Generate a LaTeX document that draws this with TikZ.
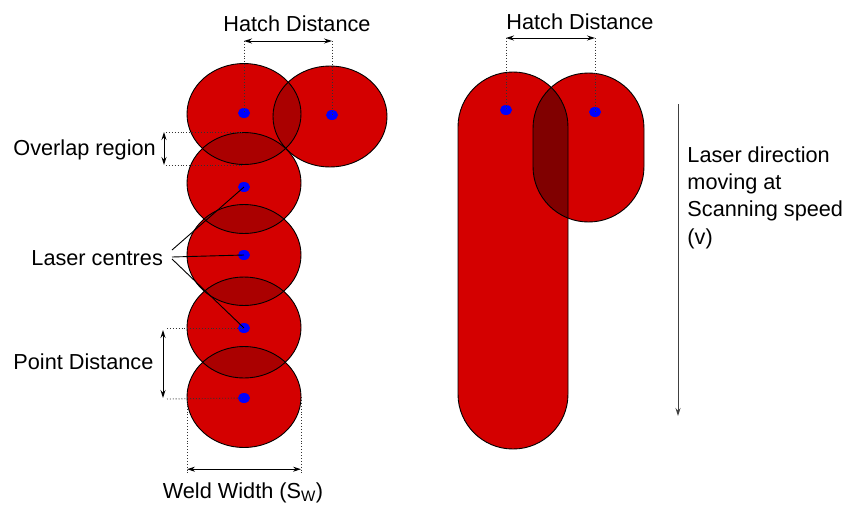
\documentclass[tikz,border=0pt]{standalone}
\usepackage{fontspec}
\setmainfont{Liberation Sans}
\usetikzlibrary{arrows.meta, positioning, calc, shapes.geometric}
\definecolor{weld}{HTML}{D40000}
\definecolor{ovl}{HTML}{AA0000}
\definecolor{ovr}{HTML}{800000}
\definecolor{spot}{HTML}{0000FF}

\begin{document}
\begin{tikzpicture}[x=1pt, y=-1pt, line width=0.9pt,
    >={Stealth[length=8pt, width=5pt]},
    font=\fontsize{21.7}{27.3}\selectfont,
    rim/.style={draw=black, line width=0.9pt},
    dot/.style={ellipse, fill=spot, minimum width=12pt,
                minimum height=10pt, inner sep=0pt},
    guide/.style={dotted, line width=0.9pt, black!80},
    dim/.style={<->, line width=0.9pt},
    lbl/.style={inner sep=0pt}]
  \useasboundingbox (0,0) rectangle (860,504);
  % spot tracks, left
  \foreach \i/\y in {1/114, 2/183, 3/255, 4/327.5, 5/397}{
    \coordinate (p\i) at (244,\y);
  }
  \coordinate (ph) at (330,116.5);
  \foreach \i in {1,2,3,4,5,h}{
    \fill[weld] (p\i) ellipse [x radius=57, y radius=50.5];
  }
  \foreach \a/\b in {1/2, 2/3, 3/4, 4/5, 1/h}{
    \begin{scope}
      \clip (p\a) ellipse [x radius=57, y radius=50.5];
      \fill[ovl] (p\b) ellipse [x radius=57, y radius=50.5];
    \end{scope}
  }
  \foreach \i in {1,2,3,4,5,h}{
    \draw[rim] (p\i) ellipse [x radius=57, y radius=50.5];
  }
  \foreach \i/\y in {1/113, 2/187, 3/255, 4/328, 5/398}{
    \node[dot] (d\i) at (244,\y) {};
  }
  \node[dot] (dh) at (332,115) {};

  % hatch distance, left
  \coordinate (ha) at (d1 |- 0,41);
  \coordinate (hb) at (dh |- 0,41);
  \draw[guide] (ha) -- (d1.center);
  \draw[guide] (hb) -- (dh.center);
  \draw[dim] (ha) -- (hb);
  \node[lbl, anchor=base] (hatchL) at (297,31) {Hatch Distance};

  % overlap region
  \coordinate (oa) at (164,132);
  \coordinate (ob) at (164,165);
  \coordinate (ga) at (166,132);
  \coordinate (gb) at (166,165);
  \draw[guide] (ga) -- (p2 |- ga);
  \draw[guide] (gb) -- (p1 |- gb);
  \draw[dim] (oa) -- (ob);
  \node[lbl, anchor=base west] (olap) at (13,155) {Overlap region};

  % laser centres
  \node[lbl, anchor=base west] (lc) at (31,265) {Laser centres};
  \coordinate (l1) at (172,250);
  \coordinate (l2) at (172,257);
  \coordinate (l3) at (172,259);
  \draw[line width=0.9pt] (l1) -- (d2.center);
  \draw[line width=0.9pt] (l2) -- (d3.center);
  \draw[line width=0.9pt] (l3) -- (d4.center);

  % point distance
  \coordinate (pa) at (163,330);
  \coordinate (pb) at (163,398);
  \coordinate (ka) at (167,328);
  \coordinate (kb) at (167,399);
  \draw[guide] (ka) -- (d4.center);
  \draw[guide] (kb) -- (d5.center);
  \draw[dim] (pa) -- (pb);
  \node[lbl, anchor=base west] (pdist) at (13,369) {Point Distance};

  % weld width
  \coordinate (wa) at (187,397);
  \coordinate (wb) at (301,397);
  \coordinate (wc) at (187,473);
  \coordinate (wd) at (301,473);
  \draw[guide] (wa) -- (wc);
  \draw[guide] (wb) -- (wd);
  \draw[dim] ($(wa)!0.95!(wc)$) -- ($(wb)!0.95!(wd)$);
  \node[lbl, anchor=base] (weldw) at (243,498) {Weld Width (S\textsubscript{W})};

  % continuous tracks, right
  \fill[weld, rounded corners=54.9pt] (458,72) rectangle (568,449);
  \fill[weld, rounded corners=55.4pt] (533,73) rectangle (644,222);
  \begin{scope}
    \clip[rounded corners=54.9pt] (458,72) rectangle (568,449);
    \fill[ovr, rounded corners=55.4pt] (533,73) rectangle (644,222);
  \end{scope}
  \draw[rim, rounded corners=54.9pt] (458,72) rectangle (568,449);
  \draw[rim, rounded corners=55.4pt] (533,73) rectangle (644,222);
  \node[dot] (r1) at (506,110) {};
  \node[dot] (r2) at (595,112) {};

  % hatch distance, right
  \coordinate (ra) at (r1 |- 0,38);
  \coordinate (rb) at (r2 |- 0,38);
  \draw[guide] (ra) -- (r1.center);
  \draw[guide] (rb) -- (r2.center);
  \draw[dim] (ra) -- (rb);
  \node[lbl, anchor=base] (hatchR) at (580,29) {Hatch Distance};

  % scan direction
  \coordinate (va) at (678,104);
  \coordinate (vb) at (678,416);
  \draw[->, black!75, line width=0.9pt] (va) -- (vb);
  \node[lbl, anchor=north west, align=left] (scan) at (687,146)
    {Laser direction\\moving at\\Scanning speed\\(v)};
\end{tikzpicture}
\end{document}
